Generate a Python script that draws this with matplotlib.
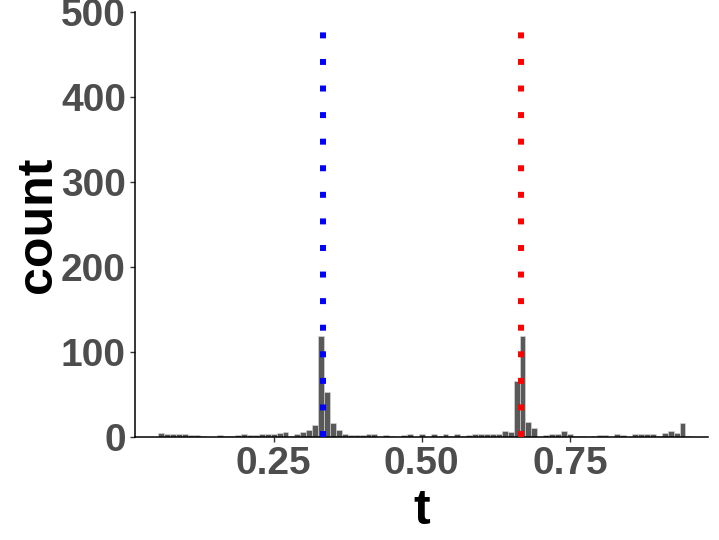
import matplotlib
matplotlib.use("Agg")
import matplotlib.pyplot as plt
import numpy as np

plt.rcParams['font.family'] = ['Liberation Sans', 'DejaVu Sans']

# histogram data: bins of width 0.01 starting at 0.055
bin_start = 0.055
bin_width = 0.01
counts = [5, 3, 3, 3, 3, 2, 2, 1, 0, 0,
          2, 1, 1, 2, 3, 2, 2, 4, 4, 4,
          5, 6, 1, 4, 6, 8, 14, 119, 53, 17,
          8, 3, 2, 2, 2, 3, 3, 0, 2, 1,
          0, 2, 3, 0, 3, 0, 3, 1, 3, 1,
          3, 1, 2, 3, 4, 3, 3, 3, 7, 6,
          66, 119, 18, 11, 0, 2, 3, 4, 7, 4,
          1, 1, 0, 1, 2, 2, 0, 3, 2, 0,
          3, 3, 3, 4, 1, 5, 7, 5, 16, 1]

# reference lines
vline_x = [1/3, 2/3]
vline_colors = ['blue', 'red']
vline_top = 482

x_ticks = [0.25, 0.50, 0.75]
x_ticklabels = ['0.25', '0.50', '0.75']
y_ticks = [0, 100, 200, 300, 400, 500]

counts = np.array(counts)
centers = bin_start + bin_width * (np.arange(len(counts)) + 0.5)

fig = plt.figure(figsize=(7.19, 5.40), dpi=100)
ax = fig.add_axes([135/719, 1 - 437/540, (708-135)/719, (437-12)/540])

ax.bar(centers, counts, width=bin_width, color='#595959',
       edgecolor='#dddddd', linewidth=0.4)

for xv, col in zip(vline_x, vline_colors):
    ax.plot([xv, xv], [0, vline_top], color=col, linewidth=4.3,
            dashes=(1, 3.45), solid_capstyle='butt', dash_capstyle='butt',
            clip_on=False, zorder=3)

ax.set_xlim(0.016, 0.983)
ax.set_ylim(0, 500)
ax.set_xticks(x_ticks)
ax.set_xticklabels(x_ticklabels)
ax.set_yticks(y_ticks)

for side in ['top', 'right']:
    ax.spines[side].set_visible(False)
for side in ['left', 'bottom']:
    ax.spines[side].set_color('black')
    ax.spines[side].set_linewidth(1.1)

ax.tick_params(axis='both', length=3.5, width=1.0, color='#333333',
               labelsize=28, labelcolor='#4d4d4d', pad=3)
for lab in ax.get_xticklabels() + ax.get_yticklabels():
    lab.set_fontweight('bold')

ax.set_xlabel('t', fontsize=36, fontweight='bold', labelpad=4)
ax.set_ylabel('count', fontsize=36, fontweight='bold', labelpad=0)

fig.savefig('out.png', dpi=100)
